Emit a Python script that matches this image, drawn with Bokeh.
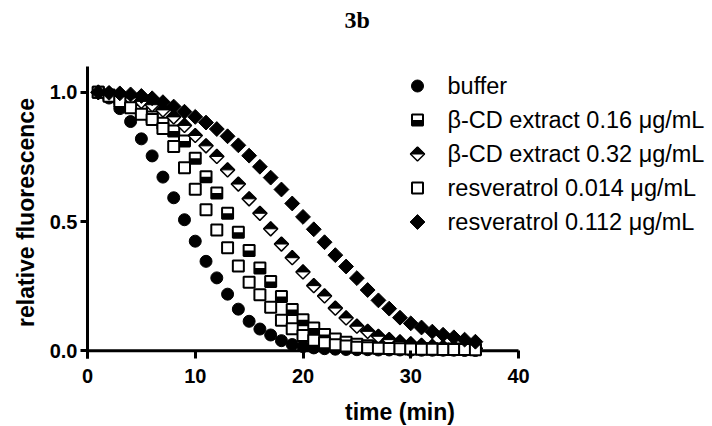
import numpy as np
from bokeh.plotting import figure
from bokeh.models import Range1d, FixedTicker, PrintfTickFormatter
from bokeh.core.properties import value
from bokeh.embed import file_html
from bokeh.resources import INLINE

# ---------------- data ----------------
time_min = list(range(1, 37))
buffer = [1.000, 0.978, 0.937, 0.887, 0.820, 0.754, 0.672, 0.592, 0.507, 0.424,
          0.346, 0.282, 0.219, 0.161, 0.114, 0.084, 0.061, 0.039, 0.024, 0.016,
          0.011, 0.008, 0.006, 0.005, 0.004, 0.004, 0.003, 0.003, 0.003, 0.002,
          0.002, 0.002, 0.002, 0.002, 0.001, 0.001]
bcd_016 = [1.000, 0.990, 0.975, 0.955, 0.930, 0.905, 0.880, 0.850, 0.812, 0.745,
           0.673, 0.610, 0.532, 0.459, 0.388, 0.320, 0.268, 0.210, 0.160, 0.120,
           0.088, 0.063, 0.045, 0.033, 0.025, 0.019, 0.015, 0.013, 0.011, 0.010,
           0.009, 0.008, 0.007, 0.007, 0.006, 0.006]
bcd_032 = [1.000, 0.995, 0.988, 0.978, 0.965, 0.952, 0.932, 0.905, 0.872, 0.833,
           0.793, 0.752, 0.700, 0.645, 0.588, 0.532, 0.472, 0.413, 0.360, 0.305,
           0.252, 0.212, 0.165, 0.127, 0.095, 0.075, 0.056, 0.043, 0.034, 0.027,
           0.021, 0.017, 0.014, 0.012, 0.010, 0.009]
res_0014 = [1.000, 0.985, 0.965, 0.940, 0.915, 0.895, 0.860, 0.790, 0.708, 0.625,
            0.546, 0.467, 0.399, 0.328, 0.265, 0.217, 0.168, 0.118, 0.085, 0.059,
            0.041, 0.031, 0.023, 0.018, 0.014, 0.012, 0.010, 0.009, 0.008, 0.007,
            0.006, 0.006, 0.005, 0.005, 0.005, 0.004]
res_0112 = [1.000, 0.998, 0.996, 0.992, 0.986, 0.977, 0.962, 0.945, 0.925, 0.905,
            0.883, 0.858, 0.830, 0.795, 0.755, 0.712, 0.670, 0.624, 0.570, 0.518,
            0.470, 0.420, 0.370, 0.326, 0.281, 0.235, 0.195, 0.163, 0.128, 0.106,
            0.090, 0.074, 0.062, 0.052, 0.043, 0.035]
series_labels = ["buffer", "\u03b2-CD extract 0.16 \u03bcg/mL", "\u03b2-CD extract 0.32 \u03bcg/mL",
                 "resveratrol 0.014 \u03bcg/mL", "resveratrol 0.112 \u03bcg/mL"]
x_ticks = [0, 10, 20, 30, 40]
y_ticks = [0.0, 0.5, 1.0]
title_text = "3b"
x_title = "time (min)"
y_title = "relative fluorescence"

# ---------------- layout ----------------
FL, FT, FB = 87, 66, 68   # frame left / top border, bottom border (px)
FW, FH = 625, 292         # frame size
AXIS_PX = 431             # pixel length of x axis 0..40
X0, X1 = 0.0, 40.0 * FW / AXIS_PX
Y0, Y1 = -0.03, 1.1
dxpp = (X1 - X0) / FW
dypp = (Y1 - Y0) / FH

p = figure(frame_width=FW, frame_height=FH,
           x_range=Range1d(X0, X1), y_range=Range1d(Y0, Y1),
           toolbar_location=None, output_backend="svg",
           min_border_left=FL, min_border_top=FT,
           min_border_bottom=FB, min_border_right=0)
p.outline_line_color = None
p.xgrid.visible = False
p.ygrid.visible = False
p.background_fill_color = "white"
p.border_fill_color = "white"

p.title.text = title_text + "\n\u00a0"
p.title.text_font = "Liberation Serif"
p.title.text_font_style = "bold"
p.title.text_font_size = "24px"
p.title.text_color = "black"
p.title.text_line_height = 1.0
p.title.align = "left"
p.title.offset = 257
p.title.vertical_align = "top"
p.title.standoff = 12

FONT = "Liberation Sans"
for ax in (p.xaxis[0], p.yaxis[0]):
    ax.axis_line_width = 3
    ax.axis_line_color = "black"
    ax.major_tick_line_width = 3
    ax.major_tick_line_color = "black"
    ax.minor_tick_line_color = None
    ax.major_label_text_font = FONT
    ax.major_label_text_font_style = "bold"
    ax.major_label_text_font_size = "20px"
    ax.major_label_text_color = "black"
    ax.axis_label_text_font = FONT
    ax.axis_label_text_font_style = "bold"
    ax.axis_label_text_font_size = "23px"
    ax.axis_label_text_color = "black"

# x axis sits at the frame bottom; its line is drawn at y = 0 and ticks point up to it
xa = p.xaxis[0]
xa.ticker = FixedTicker(ticks=x_ticks)
xa.axis_line_color = None
xa.major_tick_in = round(-Y0 / dypp)
xa.major_tick_out = 0
xa.major_label_standoff = 10
xa.axis_label = x_title
xa.axis_label_standoff = 13

ya = p.yaxis[0]
ya.ticker = FixedTicker(ticks=y_ticks)
ya.formatter = PrintfTickFormatter(format="%.1f")
ya.major_tick_in = 0
ya.major_tick_out = 7
ya.major_label_standoff = 3
ya.axis_label = y_title
ya.axis_label_standoff = 8

p.segment(x0=[x_ticks[0]], y0=[0], x1=[x_ticks[-1]], y1=[0],
          line_color="black", line_width=3)


def draw(kind, xs, ys):
    xs = np.asarray(xs, float)
    ys = np.asarray(ys, float)
    if kind == "circle":
        p.scatter(xs, ys, marker="circle", size=12, fill_color="black", line_color="black")
    elif kind == "half_square":
        p.scatter(xs, ys, marker="square", size=11, fill_color="white",
                  line_color="black", line_width=2)
        h = 5.5
        p.quad(left=xs - h * dxpp, right=xs + h * dxpp, top=ys, bottom=ys - h * dypp,
               fill_color="black", line_color=None)
    elif kind == "half_diamond":
        p.scatter(xs, ys, marker="square", angle=np.pi / 4, size=10, fill_color="white",
                  line_color="black", line_width=1.5)
        a = 7.0
        pxs = [[x - a * dxpp, x + a * dxpp, x] for x in xs]
        pys = [[y, y, y + a * dypp] for y in ys]
        p.patches(pxs, pys, fill_color="black", line_color="black", line_width=1)
    elif kind == "open_square":
        p.scatter(xs, ys, marker="square", size=11, fill_color="white",
                  line_color="black", line_width=2)
    elif kind == "diamond":
        p.scatter(xs, ys, marker="square", angle=np.pi / 4, size=10.5,
                  fill_color="black", line_color="black")


kinds = ["circle", "half_square", "half_diamond", "open_square", "diamond"]
series = [buffer, bcd_016, bcd_032, res_0014, res_0112]
for k, s in zip(kinds, series):
    draw(k, time_min, s)

# ---------------- legend (drawn manually) ----------------
LEG_MX, LEG_TX = 330, 360      # px from frame left
LEG_Y0, LEG_DY = 19.5, 34      # px from frame top
for i, (k, lab) in enumerate(zip(kinds, series_labels)):
    ly = Y1 - (LEG_Y0 + LEG_DY * i) * dypp
    draw(k, [X0 + LEG_MX * dxpp], [ly])
    p.text(x=[X0 + LEG_TX * dxpp], y=[ly], text=[lab], text_font=value(FONT),
           text_font_size="23.5px", text_baseline="middle", text_align="left",
           text_color="black")

open("out.html", "w").write(file_html(p, INLINE))
